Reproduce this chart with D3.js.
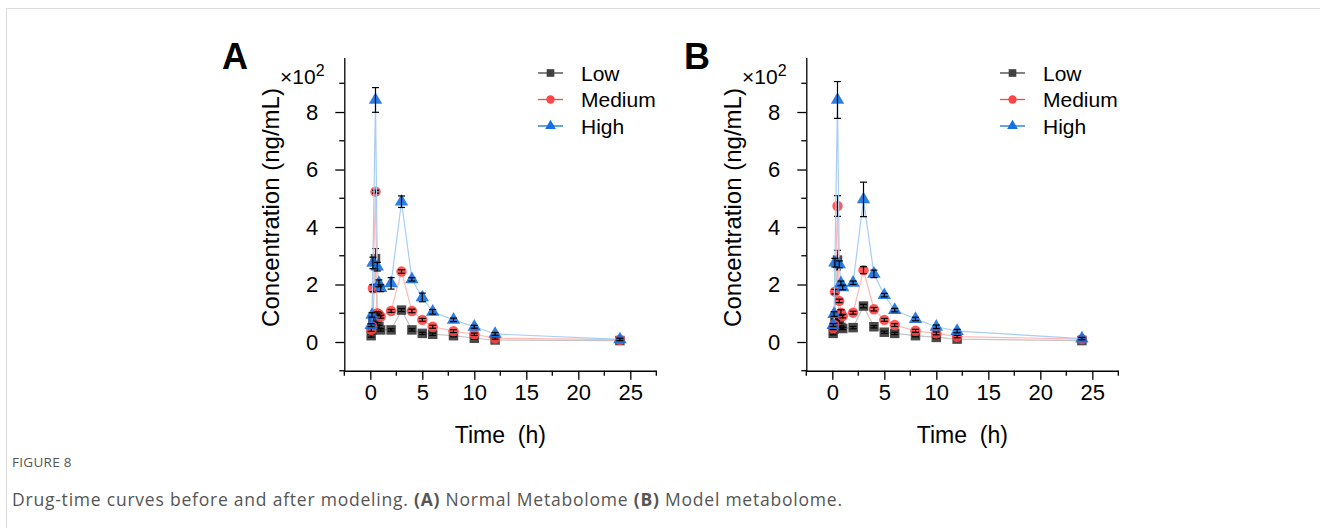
<!DOCTYPE html>
<html>
<head>
<meta charset="utf-8">
<script src="https://cdn.jsdelivr.net/npm/d3@7"></script>
<style>
  body { margin: 0; background: #fff; }
  svg { display: block; }
</style>
</head>
<body>
<svg id="chart" width="1320" height="528"></svg>
<script>
// sampling times (h)
const times = [0.083, 0.167, 0.25, 0.5, 0.67, 0.83, 1, 2, 3, 4, 5, 6, 8, 10, 12, 24];
const series = ["Low", "Medium", "High"];

// concentrations in units of 10^2 ng/mL
const lowA  = [0.22, 0.42, 0.77, 2.90, 0.63, 0.53, 0.42, 0.42, 1.11, 0.42, 0.30, 0.27, 0.22, 0.13, 0.07, 0.05];
const medA  = [0.42, 0.55, 1.87, 5.23, 1.00, 0.96, 0.88, 1.08, 2.45, 1.08, 0.77, 0.53, 0.38, 0.27, 0.13, 0.08];
const highA = [0.59, 0.94, 2.75, 8.42, 2.62, 2.04, 1.87, 2.04, 4.88, 2.18, 1.55, 1.05, 0.77, 0.53, 0.28, 0.09];
const lowAErr  = [0.05, 0.05, 0.05, 0.35, 0.05, 0.05, 0.04, 0.04, 0.05, 0.04, 0.04, 0.04, 0.04, 0.04, 0.03, 0.03];
const medAErr  = [0.05, 0.05, 0.12, 0.05, 0.06, 0.05, 0.05, 0.05, 0.06, 0.06, 0.05, 0.05, 0.05, 0.04, 0.03, 0.03];
const highAErr = [0.05, 0.08, 0.20, 0.43, 0.15, 0.12, 0.12, 0.20, 0.20, 0.06, 0.15, 0.08, 0.06, 0.05, 0.05, 0.04];

const lowB  = [0.30, 0.45, 0.85, 2.85, 0.71, 0.51, 0.47, 0.50, 1.25, 0.53, 0.34, 0.30, 0.22, 0.16, 0.10, 0.05];
const medB  = [0.48, 0.60, 1.75, 4.73, 1.43, 1.02, 0.90, 1.02, 2.50, 1.14, 0.77, 0.59, 0.39, 0.30, 0.19, 0.10];
const highB = [0.59, 0.97, 2.76, 8.42, 2.70, 2.04, 1.90, 2.06, 4.96, 2.37, 1.63, 1.11, 0.80, 0.53, 0.38, 0.12];
const lowBErr  = [0.05, 0.04, 0.05, 0.34, 0.05, 0.05, 0.04, 0.04, 0.06, 0.04, 0.04, 0.04, 0.04, 0.04, 0.03, 0.03];
const medBErr  = [0.05, 0.05, 0.08, 0.36, 0.06, 0.10, 0.06, 0.05, 0.12, 0.06, 0.05, 0.05, 0.05, 0.05, 0.04, 0.03];
const highBErr = [0.05, 0.08, 0.15, 0.64, 0.12, 0.08, 0.08, 0.06, 0.60, 0.13, 0.06, 0.06, 0.06, 0.06, 0.06, 0.04];

const xTicks = [0, 5, 10, 15, 20, 25];
const yTicks = [0, 2, 4, 6, 8];

const markColor = { Low: "#404040", Medium: "#ff4646", High: "#1670e0" };
const lineColor = { Low: "#c4c4c4", Medium: "#ffb8b8", High: "#a8cdf5" };
const symbols = { Low: d3.symbolSquare, Medium: d3.symbolCircle, High: d3.symbolTriangle };
const symSize = { Low: 90, Medium: 85, High: 78 };

const svg = d3.select("#chart");
const font = "Liberation Sans, Arial, sans-serif";

// frame of the figure box
svg.append("path")
  .attr("d", "M6.5,528 V8.5 H1320")
  .attr("fill", "none")
  .attr("stroke", "#dcdcdc");

function drawPanel(dx, letter, vals, errs) {
  const g = svg.append("g").attr("transform", `translate(${dx},0)`);

  const x = d3.scaleLinear().domain([-2.5, 27.5]).range([344.3, 656.3]);
  const y = d3.scaleLinear().domain([-1, 9.9]).range([370.75, 57.4]);

  // axes
  const xAxis = g.append("g")
    .attr("transform", `translate(0,${y(-1)})`)
    .call(d3.axisBottom(x).tickValues(xTicks).tickSize(9).tickPadding(5).tickSizeOuter(0));
  xAxis.append("g").selectAll("line")
    .data(d3.range(-2.5, 28, 5))
    .join("line")
    .attr("x1", d => x(d)).attr("x2", d => x(d))
    .attr("y1", 0).attr("y2", 5)
    .attr("stroke", "#000");

  const yAxis = g.append("g")
    .attr("transform", `translate(${x(-2.5)},0)`)
    .call(d3.axisLeft(y).tickValues(yTicks).tickSize(9).tickPadding(17).tickSizeOuter(0));
  yAxis.append("g").selectAll("line")
    .data([-1, 1, 3, 5, 7, 9])
    .join("line")
    .attr("y1", d => y(d)).attr("y2", d => y(d))
    .attr("x1", 0).attr("x2", -5)
    .attr("stroke", "#000");

  [xAxis, yAxis].forEach(a => {
    a.select(".domain").attr("stroke", "#000").attr("stroke-width", 1.3);
    a.selectAll(".tick line").attr("stroke", "#000").attr("stroke-width", 1.3);
    a.selectAll("line").attr("stroke-width", 1.3);
    a.selectAll(".tick text").attr("font-family", font).attr("font-size", 22).attr("fill", "#000");
  });

  // axis titles
  g.append("text")
    .attr("x", (x.range()[0] + x.range()[1]) / 2)
    .attr("y", 443)
    .attr("text-anchor", "middle")
    .attr("font-family", font).attr("font-size", 23)
    .attr("xml:space", "preserve")
    .text("Time  (h)");

  g.append("text")
    .attr("transform", `translate(279,207.5) rotate(-90)`)
    .attr("text-anchor", "middle")
    .attr("font-family", font).attr("font-size", 24)
    .text("Concentration (ng/mL)");

  const mult = g.append("text")
    .attr("x", 280).attr("y", 84)
    .attr("font-family", font).attr("font-size", 21);
  mult.append("tspan").text("×10");
  mult.append("tspan").attr("font-size", 16).attr("dy", -8).text("2");

  g.append("text")
    .attr("x", 222).attr("y", 69)
    .attr("font-family", font).attr("font-size", 36).attr("font-weight", "bold")
    .text(letter);

  const line = d3.line().x(d => x(d.t)).y(d => y(d.v));

  series.forEach((s, i) => {
    const pts = times.map((t, j) => ({ t, v: vals[i][j], e: errs[i][j] }));
    g.append("path")
      .datum(pts)
      .attr("d", line)
      .attr("fill", "none")
      .attr("stroke", lineColor[s])
      .attr("stroke-width", 1.2);

    g.append("g").selectAll("path")
      .data(pts)
      .join("path")
      .attr("transform", d => `translate(${x(d.t)},${y(d.v)})`)
      .attr("d", d3.symbol(symbols[s], symSize[s]))
      .attr("fill", markColor[s])
      .attr("fill-opacity", s === "Low" ? 0.95 : 0.9);

    const eb = g.append("g").attr("stroke", "#000").attr("stroke-width", 1.2);
    pts.forEach(d => {
      const cx = x(d.t), y0 = y(d.v - d.e), y1 = y(d.v + d.e);
      eb.append("line").attr("x1", cx).attr("x2", cx).attr("y1", y0).attr("y2", y1);
      eb.append("line").attr("x1", cx - 3.5).attr("x2", cx + 3.5).attr("y1", y0).attr("y2", y0);
      eb.append("line").attr("x1", cx - 3.5).attr("x2", cx + 3.5).attr("y1", y1).attr("y2", y1);
    });
  });

  // legend
  const leg = g.append("g");
  series.forEach((s, i) => {
    const ly = 73 + i * 26.5;
    leg.append("line")
      .attr("x1", 538).attr("x2", 563).attr("y1", ly).attr("y2", ly)
      .attr("stroke", markColor[s]).attr("stroke-width", 1.3);
    leg.append("path")
      .attr("transform", `translate(550.5,${ly})`)
      .attr("d", d3.symbol(symbols[s], symSize[s] * 0.65))
      .attr("fill", markColor[s]);
    leg.append("text")
      .attr("x", 581).attr("y", ly + 7.5)
      .attr("font-family", font).attr("font-size", 21)
      .text(s);
  });
}

drawPanel(0, "A", [lowA, medA, highA], [lowAErr, medAErr, highAErr]);
drawPanel(462, "B", [lowB, medB, highB], [lowBErr, medBErr, highBErr]);

// caption
svg.append("text")
  .attr("x", 12).attr("y", 467)
  .attr("font-family", "Open Sans, sans-serif").attr("font-size", 13.5)
  .attr("letter-spacing", 0.3)
  .attr("fill", "#555")
  .text("FIGURE 8");

const cap = svg.append("text")
  .attr("x", 12).attr("y", 506)
  .attr("font-family", "Open Sans, sans-serif").attr("font-size", 17.5)
  .attr("textLength", 830).attr("lengthAdjust", "spacing")
  .attr("fill", "#555");
cap.append("tspan").text("Drug-time curves before and after modeling. ");
cap.append("tspan").attr("font-weight", "bold").text("(A)");
cap.append("tspan").text(" Normal Metabolome ");
cap.append("tspan").attr("font-weight", "bold").text("(B)");
cap.append("tspan").text(" Model metabolome.");
</script>
</body>
</html>
